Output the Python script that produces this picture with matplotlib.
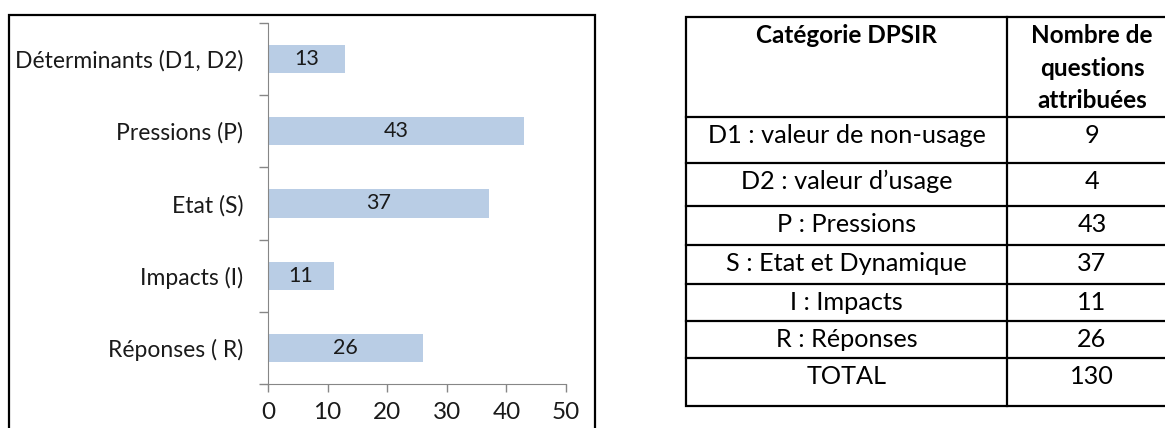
import matplotlib.pyplot as plt
from matplotlib.ticker import FixedLocator, NullFormatter, FixedFormatter

# données du graphique
categories = ["Déterminants (D1, D2)", "Pressions (P)", "Etat (S)", "Impacts (I)", "Réponses ( R)"]
valeurs = [13, 43, 37, 11, 26]
xticks = [0, 10, 20, 30, 40, 50]

# données du tableau
tab_entete_1 = "Catégorie DPSIR"
tab_entete_2 = ["Nombre de", "questions", "attribuées"]
tab_categories = ["D1 : valeur de non-usage", "D2 : valeur d’usage", "P : Pressions",
                  "S : Etat et Dynamique", "I : Impacts", "R : Réponses", "TOTAL"]
tab_nombres = ["9", "4", "43", "37", "11", "26", "130"]

plt.rcParams['font.family'] = ["Lato", "DejaVu Sans"]

W, H = 1165, 428
fig = plt.figure(figsize=(W / 100, H / 100), dpi=100)

# couche en pixels pour les cadres et le tableau
fond = fig.add_axes([0, 0, 1, 1])
fond.set_xlim(0, W)
fond.set_ylim(H, 0)
fond.axis("off")

# cadre du graphique (ouvert en bas, coupé par l'image)
fond.plot([9, 9, 595, 595], [440, 15, 15, 440], color="black", lw=1.6, solid_joinstyle="miter")

# graphique en barres
gris = "#868686"
ax = fig.add_axes([268 / W, (H - 384) / H, (566 - 268) / W, (384 - 23) / H])
pos = list(range(len(categories)))
ax.barh(pos, valeurs, height=0.39, color="#b9cde5")
for p, v in zip(pos, valeurs):
    ax.text(v / 2, p, str(v), ha="center", va="center", fontsize=15.5, color="#1a1a1a")
ax.set_xlim(0, 50)
ax.set_ylim(len(categories) - 0.5, -0.5)
ax.set_xticks(xticks)
ax.set_xticklabels([str(t) for t in xticks], fontsize=17.5, color="#1a1a1a")
ax.yaxis.set_major_locator(FixedLocator([p - 0.5 for p in pos] + [len(pos) - 0.5]))
ax.yaxis.set_major_formatter(NullFormatter())
ax.yaxis.set_minor_locator(FixedLocator(pos))
ax.yaxis.set_minor_formatter(FixedFormatter(categories))
ax.tick_params(axis="y", which="minor", length=0, pad=18, labelsize=16.5, labelcolor="#1a1a1a")
ax.tick_params(axis="y", which="major", length=6.5, color=gris, width=1)
ax.tick_params(axis="x", length=6, color=gris, width=1, pad=7)
for s in ["top", "right"]:
    ax.spines[s].set_visible(False)
for s in ["left", "bottom"]:
    ax.spines[s].set_color(gris)

# tableau (bord droit hors de l'image)
x0, xm, x1 = 686, 1007, 1177
lignes = [17, 117, 163, 206, 245, 284, 321, 358, 406]
fond.plot([x1, x0, x0, x1], [lignes[0], lignes[0], lignes[-1], lignes[-1]], color="black", lw=1.6,
          solid_joinstyle="miter")
fond.plot([xm, xm], [lignes[0], lignes[-1]], color="black", lw=1.6)
for y in lignes[1:-1]:
    fond.plot([x0, x1], [y, y], color="black", lw=1.6)

taille = 18.2
fond.text((x0 + xm) / 2, 43, tab_entete_1, ha="center", va="baseline", fontsize=17.5, fontweight="bold")
for k, t in enumerate(tab_entete_2):
    fond.text((xm + x1) / 2, 43 + 32.5 * k, t, ha="center", va="baseline", fontsize=17.5,
              fontweight="bold")
for i, (c, n) in enumerate(zip(tab_categories, tab_nombres)):
    y = lignes[i + 1] + 26
    fond.text((x0 + xm) / 2, y, c, ha="center", va="baseline", fontsize=taille)
    fond.text((xm + x1) / 2, y, n, ha="center", va="baseline", fontsize=taille)

fig.savefig("out.png", dpi=100)
